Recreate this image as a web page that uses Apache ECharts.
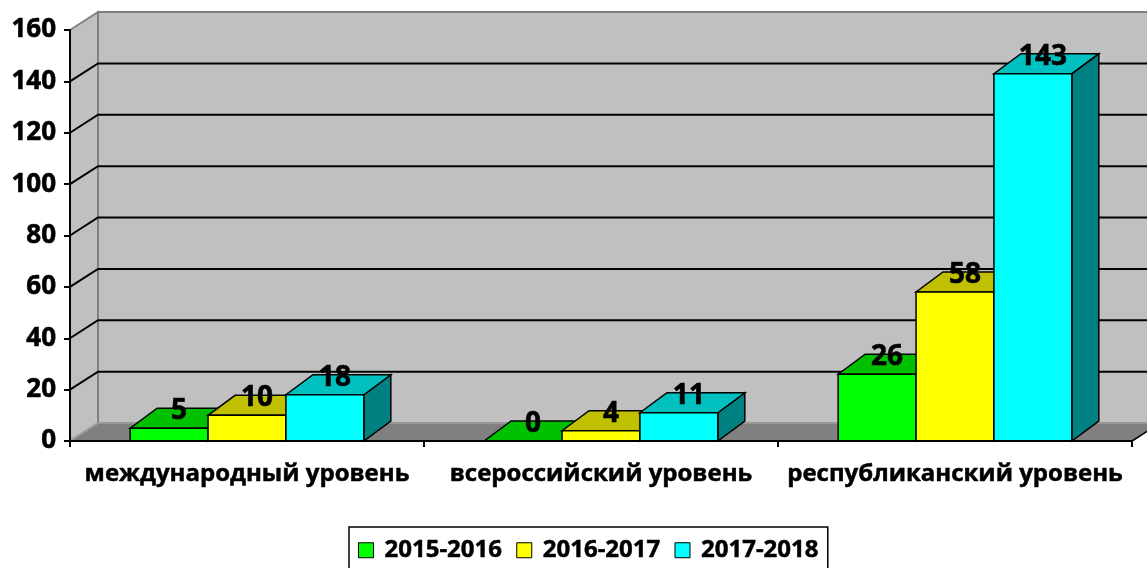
<!DOCTYPE html>
<html>
<head>
<meta charset="utf-8">
<script src="https://cdn.jsdelivr.net/npm/echarts@6/dist/echarts.min.js"></script>
<style>
  html, body { margin: 0; background: #fff; }
  #chart { width: 1147px; height: 568px; }
</style>
</head>
<body>
<div id="chart"></div>
<script>
// данные
var categories = ['международный уровень', 'всероссийский уровень', 'республиканский уровень'];
var years = ['2015-2016', '2016-2017', '2017-2018'];
var values1516 = [5, 0, 26];
var values1617 = [10, 4, 58];
var values1718 = [18, 11, 143];
var yTicks = [0, 20, 40, 60, 80, 100, 120, 140, 160];

var allValues = [values1516, values1617, values1718];
var frontColors = ['#00FF00', '#FFFF00', '#00FFFF'];
var topColors = ['#00C000', '#C0C000', '#00C0C0'];
var sideColors = ['#008000', '#808000', '#008080'];

var FONT = '"Open Sans", "Noto Sans", sans-serif';
var WX = 28, WY = -18;   // глубина стенок
var BX = 27, BY = -20;   // глубина столбиков

var chart = echarts.init(document.getElementById('chart'));

function renderWalls(params, api) {
  var cs = params.coordSys;
  var x0 = cs.x, x1 = cs.x + cs.width, yTop = cs.y, yBot = cs.y + cs.height;
  var v = api.value(1);
  var children = [];
  if (params.dataIndex === 0) {
    children.push({
      type: 'polygon',
      shape: { points: [[x0 + WX, yTop + WY], [x1 + WX, yTop + WY], [x1 + WX, yBot + WY], [x0 + WX, yBot + WY]] },
      style: { fill: '#C0C0C0', stroke: '#808080', lineWidth: 2 }
    });
    children.push({
      type: 'polygon',
      shape: { points: [[x0, yTop], [x0 + WX, yTop + WY], [x0 + WX, yBot + WY], [x0, yBot]] },
      style: { fill: '#C0C0C0', stroke: '#808080', lineWidth: 2 }
    });
    children.push({
      type: 'polygon',
      shape: { points: [[x0, yBot], [x0 + WX, yBot + WY], [x1 + WX, yBot + WY], [x1, yBot]] },
      style: { fill: '#808080', stroke: '#A0A0A0', lineWidth: 1.5 }
    });
    children.push({
      type: 'line',
      shape: { x1: x1, y1: yBot, x2: x1 + WX, y2: yBot + WY },
      style: { stroke: '#000', lineWidth: 1.5 }
    });
  } else if (v < 160) {
    var y = api.coord([0, v])[1];
    children.push({
      type: 'polyline',
      shape: { points: [[x0, y], [x0 + WX, y + WY], [x1 + WX, y + WY]] },
      style: { stroke: '#000', lineWidth: 2, fill: null }
    });
  }
  return { type: 'group', children: children };
}

function makeBarRender(s) {
  return function (params, api) {
    var cat = api.value(0);
    var v = api.value(1);
    var c = api.coord([cat, v]);
    var base = api.coord([cat, 0]);
    var band = api.size([1, 0])[0];
    var bw = band * 0.22;
    var xl = c[0] + (s - 1.5) * bw;
    var xr = xl + bw;
    var yt = c[1], yb = base[1];
    var edge = { stroke: '#000', lineWidth: 1.5 };
    return {
      type: 'group',
      children: [
        { type: 'polygon',
          shape: { points: [[xr, yt], [xr + BX, yt + BY], [xr + BX, yb + BY], [xr, yb]] },
          style: Object.assign({ fill: sideColors[s] }, edge) },
        { type: 'polygon',
          shape: { points: [[xl, yt], [xr, yt], [xr + BX, yt + BY], [xl + BX, yt + BY]] },
          style: Object.assign({ fill: topColors[s] }, edge) },
        { type: 'rect',
          shape: { x: xl, y: yt, width: bw, height: yb - yt },
          style: Object.assign({ fill: frontColors[s] }, edge) },
        { type: 'text',
          style: { text: String(v), x: xl + bw / 2 + 10, y: yt - 17,
                   align: 'center', verticalAlign: 'middle',
                   fontSize: 28, fontWeight: 'bold', fontFamily: FONT, fill: '#000',
                   stroke: '#000', lineWidth: 0.6 } }
      ]
    };
  };
}

var series = [{
  name: 'walls',
  type: 'custom',
  z: 1,
  silent: true,
  renderItem: renderWalls,
  data: yTicks.map(function (t) { return [0, t]; })
}];

years.forEach(function (yr, s) {
  series.push({
    name: yr,
    type: 'custom',
    z: 2,
    renderItem: makeBarRender(s),
    itemStyle: { color: frontColors[s], borderColor: '#000', borderWidth: 1 },
    data: allValues[s].map(function (v, i) { return [i, v]; })
  });
});

chart.setOption({
  animation: false,
  grid: { left: 70, right: 15, top: 30, bottom: 127 },
  legend: {
    data: years,
    left: 349,
    top: 527,
    padding: [11, 9, 12, 9],
    itemGap: 14,
    itemWidth: 15,
    itemHeight: 15,
    icon: 'rect',
    itemStyle: { borderColor: '#000', borderWidth: 1 },
    borderColor: '#000',
    borderWidth: 1.5,
    backgroundColor: '#fff',
    textStyle: { fontSize: 24, fontWeight: 'bold', fontFamily: FONT, color: '#000', padding: [0, 0, 0, 6],
                 textBorderColor: '#000', textBorderWidth: 0.5 }
  },
  xAxis: {
    type: 'category',
    data: categories,
    boundaryGap: true,
    axisLine: { lineStyle: { color: '#000', width: 2 } },
    axisTick: { show: true, length: 6, lineStyle: { color: '#000', width: 2 } },
    axisLabel: { interval: 0, margin: 21, fontSize: 24, fontWeight: 'bold', fontFamily: FONT, color: '#000',
                 textBorderColor: '#000', textBorderWidth: 0.5 },
    z: 3
  },
  yAxis: {
    type: 'value',
    min: 0,
    max: 160,
    interval: 20,
    splitLine: { show: false },
    axisLine: { show: true, lineStyle: { color: '#000', width: 2 } },
    axisTick: { show: true, length: 6, lineStyle: { color: '#000', width: 2 } },
    axisLabel: { margin: 14, fontSize: 26, fontWeight: 'bold', fontFamily: FONT, color: '#000',
                 textBorderColor: '#000', textBorderWidth: 0.6 },
    z: 3
  },
  series: series
});
</script>
</body>
</html>
